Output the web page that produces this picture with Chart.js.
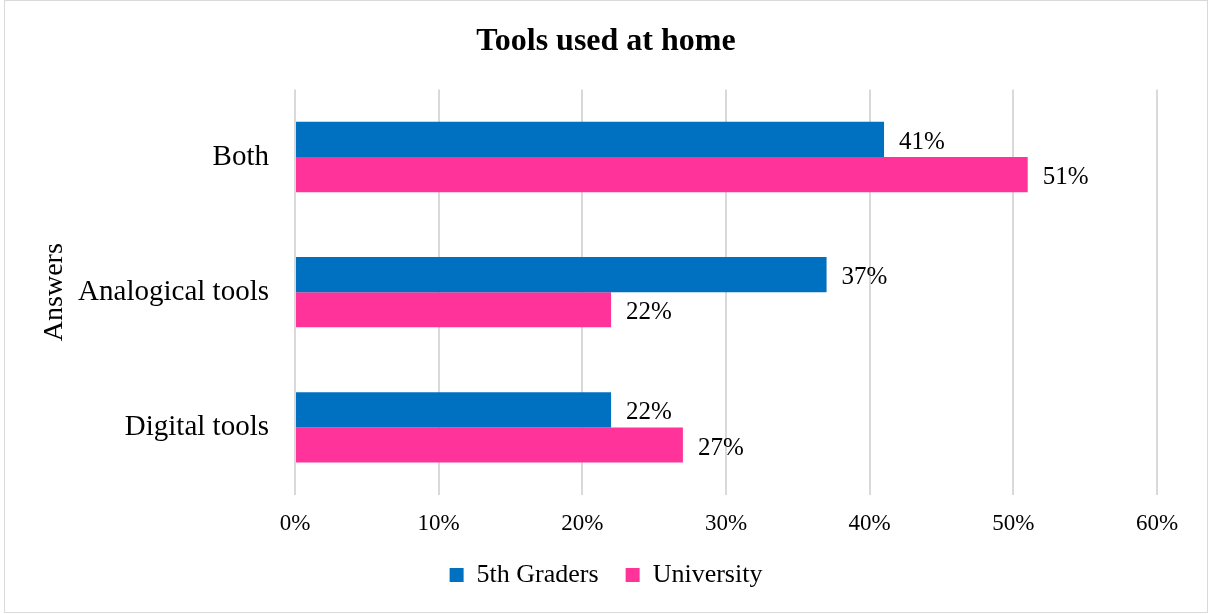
<!DOCTYPE html>
<html>
<head>
<meta charset="utf-8">
<script src="https://cdn.jsdelivr.net/npm/chart.js@4"></script>
<style>
  body { margin: 0; background: #fff; }
</style>
</head>
<body>
<canvas id="toolsChart" width="1212" height="614"></canvas>
<script>
// data
var answers = ["Both", "Analogical tools", "Digital tools"];
var graders = [41, 37, 22];
var university = [51, 22, 27];
var seriesNames = ["5th Graders", "University"];
var tickMin = 0, tickMax = 60, tickStep = 10;

Chart.defaults.font.family = "'Liberation Serif', 'Times New Roman', serif";
Chart.defaults.color = "#000";

// percent labels right of each bar
var barLabels = {
  id: "barLabels",
  afterDatasetsDraw(chart) {
    var ctx = chart.ctx;
    ctx.save();
    ctx.font = "25px 'Liberation Serif'";
    ctx.fillStyle = "#000";
    ctx.textAlign = "left";
    ctx.textBaseline = "middle";
    chart.data.datasets.forEach(function(ds, i) {
      chart.getDatasetMeta(i).data.forEach(function(bar, j) {
        ctx.fillText(ds.data[j] + "%", bar.x + 15, bar.y + 3);
      });
    });
    ctx.restore();
  }
};

// thin grey frame round the whole chart
var frame = {
  id: "frame",
  afterDraw(chart) {
    var ctx = chart.ctx;
    ctx.save();
    ctx.strokeStyle = "#d9d9d9";
    ctx.lineWidth = 1;
    ctx.strokeRect(4.5, 0.5, 1203, 612);
    ctx.restore();
  }
};

new Chart("toolsChart", {
  type: "bar",
  data: {
    labels: answers,
    datasets: [{
      label: seriesNames[0],
      backgroundColor: "#0070C0",
      data: graders,
      barPercentage: 1,
      categoryPercentage: 0.52
    }, {
      label: seriesNames[1],
      backgroundColor: "#FF3399",
      data: university,
      barPercentage: 1,
      categoryPercentage: 0.52
    }]
  },
  options: {
    indexAxis: "y",
    responsive: false,
    animation: false,
    layout: {
      padding: { left: 0, right: 0, top: 0, bottom: 16 }
    },
    plugins: {
      title: {
        display: true,
        text: "Tools used at home",
        color: "#000",
        font: { size: 32, weight: "bold" },
        padding: { top: 23, bottom: 28 }
      },
      legend: {
        display: true,
        position: "bottom",
        labels: {
          boxWidth: 14,
          boxHeight: 14,
          padding: 27,
          color: "#000",
          font: { size: 26 }
        }
      },
      tooltip: { enabled: false }
    },
    scales: {
      x: {
        min: tickMin,
        max: tickMax,
        grid: {
          color: "#d9d9d9",
          lineWidth: 2,
          drawTicks: false
        },
        border: { display: false },
        ticks: {
          stepSize: tickStep,
          padding: 15,
          font: { size: 23 },
          color: "#000",
          callback: function(v) { return v + "%"; }
        },
        afterFit: function(scale) { scale.height = 40; }
      },
      y: {
        grid: { display: false, drawTicks: false },
        border: { display: false },
        ticks: {
          padding: 26,
          font: { size: 29 },
          color: "#000"
        },
        title: {
          display: true,
          text: "Answers",
          color: "#000",
          font: { size: 28 },
          padding: { top: 38, bottom: 0 }
        },
        afterFit: function(scale) { scale.width = 295; }
      },
      // empty strip on the right so title and legend stay centred on the canvas
      spacer: {
        type: "category",
        axis: "y",
        position: "right",
        display: true,
        grid: { display: false, drawTicks: false },
        border: { display: false },
        ticks: { display: false },
        afterFit: function(scale) { scale.width = 55; }
      }
    }
  },
  plugins: [barLabels, frame]
});
</script>
</body>
</html>
